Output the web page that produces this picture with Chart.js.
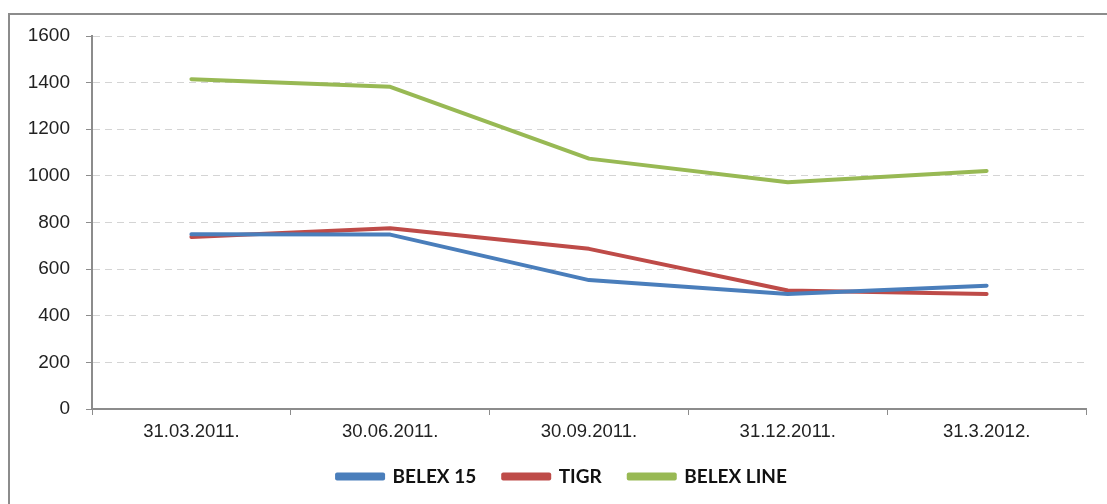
<!DOCTYPE html>
<html>
<head>
<meta charset="utf-8">
<script src="https://cdn.jsdelivr.net/npm/chart.js@4/dist/chart.umd.min.js"></script>
<style>
  html, body { margin: 0; padding: 0; background: #fff; }
  #wrap { width: 1107px; height: 504px; position: relative; }
</style>
</head>
<body>
<div id="wrap"><canvas id="graf"></canvas></div>
<script>
// dates of the quarters
const datumi = ["31.03.2011.", "30.06.2011.", "30.09.2011.", "31.12.2011.", "31.3.2012."];
// index values
const belex15 = [750, 748, 553, 493, 529];
const tigr = [738, 775, 687, 508, 493];
const belexLine = [1415, 1382, 1074, 973, 1021];
const yTicks = [0, 200, 400, 600, 800, 1000, 1200, 1400, 1600];

// grey frame on the top and left, like the exported picture
const okvir = {
  id: "okvir",
  beforeDraw(chart) {
    const ctx = chart.ctx;
    ctx.save();
    ctx.strokeStyle = "#8c8c8c";
    ctx.lineWidth = 2;
    ctx.beginPath();
    ctx.moveTo(9, 504);
    ctx.lineTo(9, 14);
    ctx.lineTo(1107, 14);
    ctx.stroke();
    ctx.restore();
  },
  // legend is centred a bit more to the right in the original
  afterLayout(chart) {
    chart.legend.left = 38;
  }
};

const data = {
  labels: datumi,
  datasets: [
    { label: "BELEX 15", data: belex15, borderColor: "#4a7ebb", backgroundColor: "#4a7ebb" },
    { label: "TIGR", data: tigr, borderColor: "#be4b48", backgroundColor: "#be4b48" },
    { label: "BELEX LINE", data: belexLine, borderColor: "#98b954", backgroundColor: "#98b954" }
  ]
};

const config = {
  type: "line",
  data: data,
  options: {
    responsive: false,
    animation: false,
    layout: { padding: { left: 0, right: 21, top: 36, bottom: 8 } },
    elements: {
      line: { borderWidth: 4, tension: 0, borderJoinStyle: "round", borderCapStyle: "round" },
      point: { radius: 0, hoverRadius: 0 }
    },
    plugins: {
      tooltip: { enabled: false },
      legend: {
        position: "bottom",
        labels: {
          boxWidth: 46,
          boxHeight: 4,
          padding: 27,
          color: "#111",
          font: { family: "Lato", size: 19, weight: "bold" }
        }
      }
    },
    scales: {
      x: {
        offset: true,
        afterFit(scale) { scale.height = 31; },
        grid: { offset: true, drawOnChartArea: false, color: "#8c8c8c", tickLength: 6 },
        border: { color: "#8c8c8c", width: 2 },
        ticks: { color: "#222", padding: 6, font: { family: "Liberation Sans", size: 18.5 } }
      },
      y: {
        min: 0,
        max: 1600,
        afterFit(scale) { scale.width = 92; },
        afterBuildTicks(scale) { scale.ticks = yTicks.map(v => ({ value: v })); },
        grid: { color: "#d4d4d4", lineWidth: 1, tickLength: 6, tickColor: "#8c8c8c", tickBorderDash: [] },
        border: { color: "#8c8c8c", width: 2, dash: [7, 5] },
        ticks: {
          color: "#222",
          padding: 16,
          font: { family: "Liberation Sans", size: 19 },
          callback: v => String(v)
        }
      }
    }
  },
  plugins: [okvir]
};

const canvas = document.querySelector("#graf");
canvas.width = 1107;
canvas.height = 504;
new Chart(canvas, config);
</script>
</body>
</html>
